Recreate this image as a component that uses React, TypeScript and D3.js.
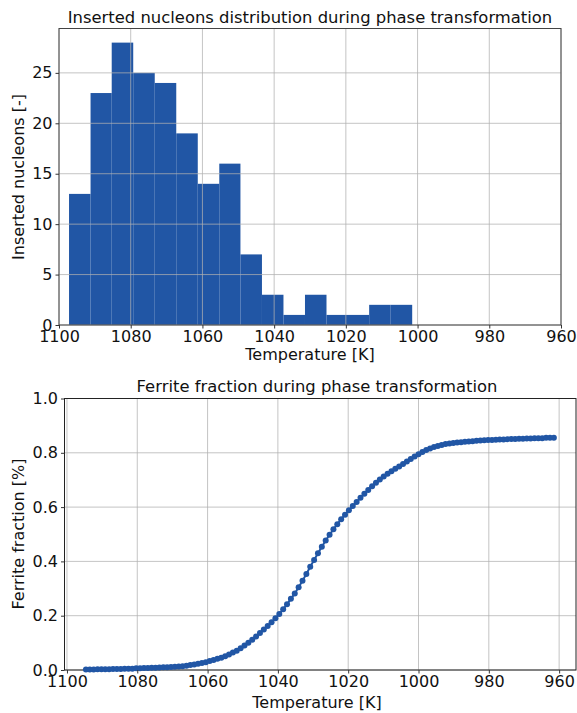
import React, { useEffect, useRef } from 'react';
import * as d3 from 'd3';

// histogram of inserted nucleons (bins run from hot to cold)
const binEdges = [1097.2, 1091.2, 1085.3, 1079.3, 1073.3, 1067.3, 1061.3, 1055.3, 1049.4, 1043.4, 1037.4, 1031.4, 1025.4, 1019.4, 1013.5, 1007.5, 1001.5];
const nucleonCounts = [13, 23, 28, 25, 24, 19, 14, 16, 7, 3, 1, 3, 1, 1, 2, 2];

// ferrite fraction curve
const temperatures = [
  1094.6, 1093.5, 1092.4, 1091.3, 1090.2, 1089.1, 1088.0, 1086.9, 1085.8, 1084.7,
  1083.6, 1082.5, 1081.4, 1080.3, 1079.2, 1078.1, 1077.0, 1075.9, 1074.8, 1073.7,
  1072.6, 1071.5, 1070.4, 1069.3, 1068.2, 1067.1, 1066.0, 1064.9, 1063.8, 1062.7,
  1061.6, 1060.5, 1059.4, 1058.3, 1057.2, 1056.1, 1055.0, 1053.9, 1052.8, 1051.7,
  1050.6, 1049.5, 1048.4, 1047.3, 1046.2, 1045.1, 1044.0, 1042.9, 1041.8, 1040.7,
  1039.6, 1038.5, 1037.4, 1036.3, 1035.2, 1034.1, 1033.0, 1031.9, 1030.8, 1029.7,
  1028.6, 1027.5, 1026.4, 1025.3, 1024.2, 1023.1, 1022.0, 1020.9, 1019.8, 1018.7,
  1017.6, 1016.5, 1015.4, 1014.3, 1013.2, 1012.1, 1011.0, 1009.9, 1008.8, 1007.7,
  1006.6, 1005.5, 1004.4, 1003.3, 1002.2, 1001.1, 1000.0, 998.9, 997.8, 996.7,
  995.6, 994.5, 993.4, 992.3, 991.2, 990.1, 989.0, 987.9, 986.8, 985.7,
  984.6, 983.5, 982.4, 981.3, 980.2, 979.1, 978.0, 976.9, 975.8, 974.7,
  973.6, 972.5, 971.4, 970.3, 969.2, 968.1, 967.0, 965.9, 964.8, 963.7,
  962.6, 961.5,
];
const ferriteFraction = [
  0.002, 0.002, 0.002, 0.003, 0.003, 0.003, 0.003, 0.004, 0.004, 0.004,
  0.005, 0.005, 0.005, 0.006, 0.006, 0.007, 0.007, 0.008, 0.008, 0.009,
  0.010, 0.010, 0.011, 0.012, 0.013, 0.014, 0.016, 0.018, 0.020, 0.023,
  0.026, 0.029, 0.033, 0.037, 0.041, 0.045, 0.051, 0.057, 0.064, 0.071,
  0.080, 0.090, 0.100, 0.111, 0.123, 0.136, 0.149, 0.162, 0.176, 0.191,
  0.206, 0.224, 0.242, 0.262, 0.282, 0.305, 0.329, 0.354, 0.380, 0.405,
  0.430, 0.454, 0.477, 0.498, 0.518, 0.537, 0.555, 0.572, 0.588, 0.604,
  0.619, 0.634, 0.649, 0.663, 0.677, 0.690, 0.702, 0.713, 0.723, 0.732,
  0.741, 0.750, 0.759, 0.768, 0.777, 0.786, 0.795, 0.803, 0.810, 0.816,
  0.821, 0.825, 0.829, 0.832, 0.834, 0.836, 0.838, 0.839, 0.841, 0.842,
  0.843, 0.844, 0.845, 0.846, 0.847, 0.847, 0.848, 0.849, 0.849, 0.850,
  0.851, 0.851, 0.852, 0.852, 0.853, 0.853, 0.854, 0.854, 0.854, 0.855,
  0.855, 0.855,
];

const tempTicks = [1100, 1080, 1060, 1040, 1020, 1000, 980, 960];
const countTicks = [0, 5, 10, 15, 20, 25];
const fractionTicks = [0, 0.2, 0.4, 0.6, 0.8, 1.0];

const blue = '#2156a5';
const ink = '#111';
const font = 'DejaVu Sans, sans-serif';

const App = () => {
  const svgRef = useRef<SVGSVGElement>(null);

  useEffect(() => {
    const svg = d3.select(svgRef.current);
    svg.selectAll('*').remove();

    const styleAxis = (g: any) => {
      g.selectAll('text').attr('font-family', font).attr('font-size', 16).attr('fill', ink);
      g.selectAll('line').attr('stroke', '#333');
      g.select('.domain').remove();
    };

    const grid = (g: any, x: any, y: any, xt: number[], yt: number[], x0: number, x1: number, y0: number, y1: number) => {
      g.selectAll('.gx').data(xt).enter().append('line')
        .attr('x1', (d: number) => x(d)).attr('x2', (d: number) => x(d))
        .attr('y1', y0).attr('y2', y1);
      g.selectAll('.gy').data(yt).enter().append('line')
        .attr('x1', x0).attr('x2', x1)
        .attr('y1', (d: number) => y(d)).attr('y2', (d: number) => y(d));
      g.selectAll('line').attr('stroke', '#b0b0b0').attr('stroke-opacity', 0.75).attr('stroke-width', 1);
    };

    const label = (x: number, y: number, size: number, text: string, rotate = false) => {
      svg.append('text')
        .attr('transform', rotate ? `translate(${x},${y}) rotate(-90)` : `translate(${x},${y})`)
        .attr('text-anchor', 'middle')
        .attr('font-family', font).attr('font-size', size).attr('fill', ink)
        .text(text);
    };

    // ---- top: histogram
    const x1 = d3.scaleLinear().domain([1100, 960]).range([59, 561]);
    const y1 = d3.scaleLinear().domain([0, 29.4]).range([325, 28.5]);

    const bins = nucleonCounts.map((c, i) => ({ hi: binEdges[i], lo: binEdges[i + 1], c }));
    svg.append('g').selectAll('rect').data(bins).enter().append('rect')
      .attr('x', d => x1(d.hi))
      .attr('width', d => x1(d.lo) - x1(d.hi))
      .attr('y', d => y1(d.c))
      .attr('height', d => y1(0) - y1(d.c))
      .attr('fill', blue);

    grid(svg.append('g'), x1, y1, tempTicks, countTicks, 59, 561, 28.5, 325);

    svg.append('rect').attr('x', 59).attr('y', 28.5).attr('width', 502).attr('height', 296.5)
      .attr('fill', 'none').attr('stroke', '#444').attr('stroke-width', 1);

    svg.append('g').attr('transform', 'translate(0,325)')
      .call(d3.axisBottom(x1).tickValues(tempTicks).tickSize(3.5).tickPadding(2.5).tickFormat(d3.format('d')))
      .call(styleAxis);
    svg.append('g').attr('transform', 'translate(59,0)')
      .call(d3.axisLeft(y1).tickValues(countTicks).tickSize(3.5).tickPadding(3).tickFormat(d3.format('d')))
      .call(styleAxis);

    label(310, 23, 16.4, 'Inserted nucleons distribution during phase transformation');
    label(310, 360, 16, 'Temperature [K]');
    label(24, 177, 16, 'Inserted nucleons [-]', true);

    // ---- bottom: ferrite fraction
    const x2 = d3.scaleLinear().domain([1100.7, 955.2]).range([64.5, 576]);
    const y2 = d3.scaleLinear().domain([0, 1]).range([670, 398.5]);

    grid(svg.append('g'), x2, y2, tempTicks, fractionTicks, 64.5, 576, 398.5, 670);

    svg.append('rect').attr('x', 64.5).attr('y', 398.5).attr('width', 511.5).attr('height', 271.5)
      .attr('fill', 'none').attr('stroke', '#222').attr('stroke-width', 1);

    const pts = temperatures.map((t, i) => ({ t, f: ferriteFraction[i] }));
    const line = d3.line<{ t: number; f: number }>().x(d => x2(d.t)).y(d => y2(d.f));
    svg.append('path').datum(pts).attr('d', line).attr('fill', 'none')
      .attr('stroke', blue).attr('stroke-width', 2);
    svg.append('g').selectAll('circle').data(pts).enter().append('circle')
      .attr('cx', d => x2(d.t)).attr('cy', d => y2(d.f)).attr('r', 3).attr('fill', blue);

    svg.append('g').attr('transform', 'translate(0,670)')
      .call(d3.axisBottom(x2).tickValues(tempTicks).tickSize(3.5).tickPadding(2.5).tickFormat(d3.format('d')))
      .call(styleAxis);
    svg.append('g').attr('transform', 'translate(64.5,0)')
      .call(d3.axisLeft(y2).tickValues(fractionTicks).tickSize(3.5).tickPadding(3).tickFormat(d3.format('.1f')))
      .call(styleAxis);

    label(317, 392, 16.4, 'Ferrite fraction during phase transformation');
    label(317, 708, 16, 'Temperature [K]');
    label(24, 534, 16, 'Ferrite fraction [%]', true);
  }, []);

  return (
    <svg ref={svgRef} width={577} height={713}
      style={{ position: 'absolute', left: 0, top: 0, background: '#fff' }} />
  );
};

export default App;
